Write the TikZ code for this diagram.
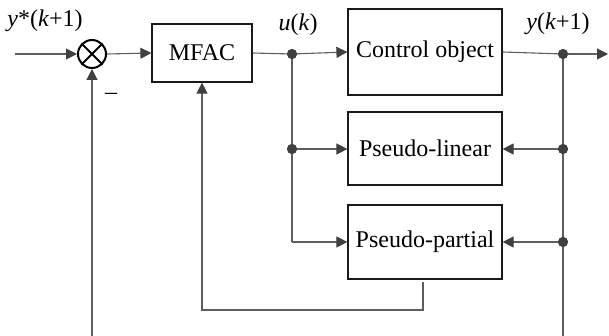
\documentclass[tikz,border=0pt]{standalone}
\usepackage{fontspec}
\setmainfont{Liberation Serif}
\usetikzlibrary{arrows.meta}
\definecolor{linec}{HTML}{5E5E5E}
\definecolor{headc}{HTML}{404040}
\definecolor{boxc}{HTML}{1A1A1A}
\begin{document}
\begin{tikzpicture}[x=1pt,y=-1pt,
  every node/.style={font=\fontsize{24}{28}\selectfont},
  block/.style={draw=boxc,line width=1.2pt,minimum width=154pt,inner sep=0pt},
  wire/.style={draw=linec,line width=1.1pt},
  arr/.style={wire,-{Triangle[length=11pt,width=11pt,color=headc]}},
  dotc/.style={circle,fill=headc,inner sep=0pt,minimum size=10pt},
  lab/.style={anchor=base,inner sep=0pt}]
\useasboundingbox (0,0) rectangle (609,336);
% blocks
\node[circle,draw=black,line width=2pt,minimum size=28pt,inner sep=0pt] (sum) at (92,54) {};
\draw[black,line width=2pt] (sum.north west) -- (sum.south east) (sum.north east) -- (sum.south west);
\node[block,minimum width=100pt,minimum height=58pt] (mfac) at (202,53) {MFAC};
\node[block,minimum height=86pt] (plant) at (425,52) {Control object};
\node[block,minimum height=73pt] (plin) at (425,148.5) {Pseudo-linear};
\node[block,minimum height=74pt] (ppar) at (425,242) {Pseudo-partial};
% coordinates
\coordinate (in) at (15,54);
\coordinate (out) at (608,54);
\coordinate (bl) at (92,336);
\coordinate (br) at (563,336);
\coordinate (fb1) at (423,282);
\coordinate (fb2) at (423,310);
\coordinate (fb3) at (202,310);
\node[dotc] (ud) at (292,54) {};
\node[dotc] (ud2) at (292,149) {};
\coordinate (ud3) at (292,242);
\node[dotc] (yd) at (563,54) {};
\node[dotc] (yd2) at (563,149) {};
\node[dotc] (yd3) at (563,242) {};
% wires
\draw[arr] (in) -- (sum.west);
\draw[arr] (sum.east) -- (mfac.west);
\draw[wire] (mfac.east) -- (ud.center);
\draw[arr] (ud.center) -- (plant.west);
\draw[wire] (plant.east) -- (yd.center);
\draw[arr] (yd.center) -- (out);
\draw[wire] (ud.center) -- (ud3);
\draw[arr] (ud2.center) -- (ud2 -| plin.west);
\draw[arr] (ud3) -- (ud3 -| ppar.west);
\draw[wire] (yd.center) -- (br);
\draw[arr] (yd2.center) -- (yd2 -| plin.east);
\draw[arr] (yd3.center) -- (yd3 -| ppar.east);
\draw[arr] (fb1) -- (fb2) -- (fb3) -- (mfac.south);
\draw[arr] (bl) -- (sum.south);
\node[dotc] at (ud) {};
\node[dotc] at (ud2) {};
\node[dotc] at (yd) {};
\node[dotc] at (yd2) {};
\node[dotc] at (yd3) {};
% labels
\node[lab] (lys) at (45,27) {\textit{y}*(\textit{k}+1)};
\node[lab] (lu) at (298,31) {\textit{u}(\textit{k})};
\node[lab] (ly) at (558,30) {\textit{y}(\textit{k}+1)};
\node[lab] (lm) at (111,100) {–};
\end{tikzpicture}
\end{document}
